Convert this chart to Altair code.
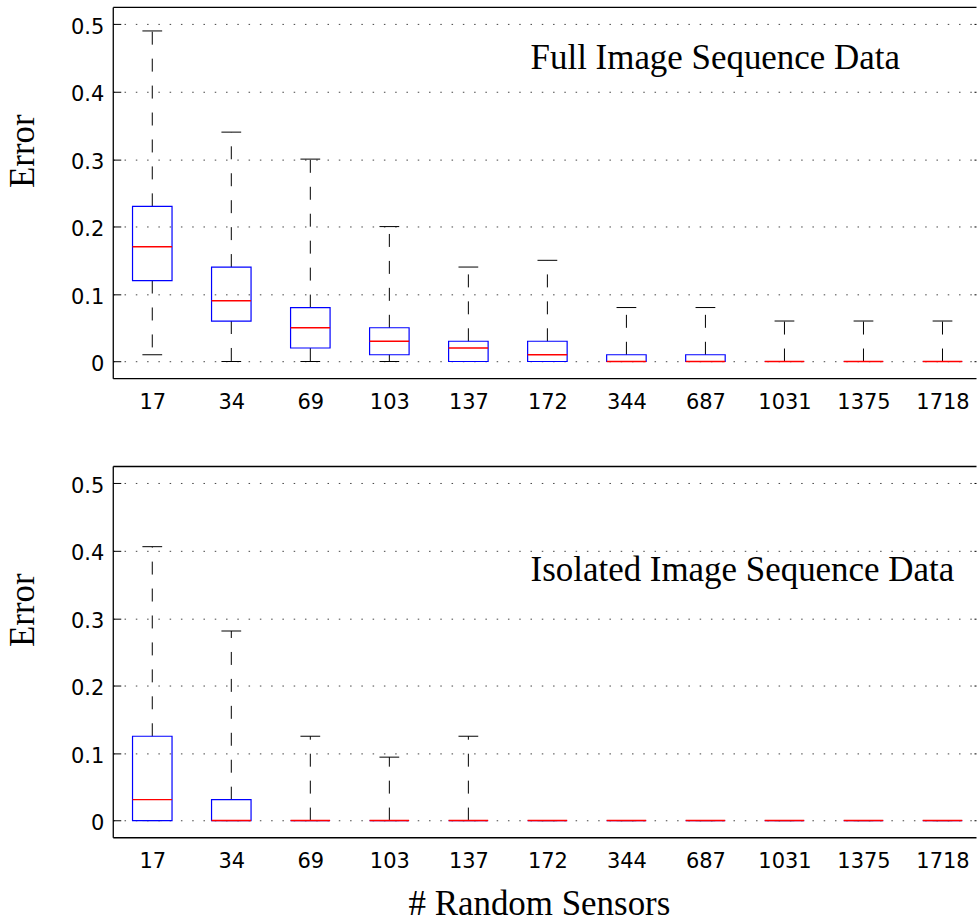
import altair as alt
import pandas as pd

# ---------------- data ----------------
categories = ["17", "34", "69", "103", "137", "172", "344", "687", "1031", "1375", "1718"]

full_lower  = [0.01, 0.00, 0.00, 0.00, 0.00, 0.00, 0.00, 0.00, 0.00, 0.00, 0.00]
full_q1     = [0.12, 0.06, 0.02, 0.01, 0.00, 0.00, 0.00, 0.00, 0.00, 0.00, 0.00]
full_median = [0.17, 0.09, 0.05, 0.03, 0.02, 0.01, 0.00, 0.00, 0.00, 0.00, 0.00]
full_q3     = [0.23, 0.14, 0.08, 0.05, 0.03, 0.03, 0.01, 0.01, 0.00, 0.00, 0.00]
full_upper  = [0.49, 0.34, 0.30, 0.20, 0.14, 0.15, 0.08, 0.08, 0.06, 0.06, 0.06]

iso_lower  = [0.000, 0.000, 0.000, 0.000, 0.000, 0.0, 0.0, 0.0, 0.0, 0.0, 0.0]
iso_q1     = [0.000, 0.000, 0.000, 0.000, 0.000, 0.0, 0.0, 0.0, 0.0, 0.0, 0.0]
iso_median = [0.031, 0.000, 0.000, 0.000, 0.000, 0.0, 0.0, 0.0, 0.0, 0.0, 0.0]
iso_q3     = [0.125, 0.031, 0.000, 0.000, 0.000, 0.0, 0.0, 0.0, 0.0, 0.0, 0.0]
iso_upper  = [0.406, 0.281, 0.125, 0.094, 0.125, 0.0, 0.0, 0.0, 0.0, 0.0, 0.0]

y_ticks = [0, 0.1, 0.2, 0.3, 0.4, 0.5]

# ---------------- styling ----------------
PLOT_W = 865          # plot area runs off the right edge in the original (xlim 0.5..11.5)
PLOT_H = 372
X_DOMAIN = [0.5, 11.424]
Y_DOMAIN = [-0.0247, 0.5256]
BOX_HALF = 0.25
CAP_HALF = 0.125
SANS = "DejaVu Sans"
SERIF = "Liberation Serif"
SERIF_SIZE = 35
FRAME_W = 1.3

label_expr = "[" + ",".join("'%s'" % c for c in categories) + "][datum.value - 1]"


def make_df(lower, q1, med, q3, upper):
    idx = list(range(1, len(categories) + 1))
    return pd.DataFrame({
        "idx": idx,
        "cat": categories,
        "lower": lower, "q1": q1, "median": med, "q3": q3, "upper": upper,
        "box_lo": [i - BOX_HALF for i in idx], "box_hi": [i + BOX_HALF for i in idx],
        "cap_lo": [i - CAP_HALF for i in idx], "cap_hi": [i + CAP_HALF for i in idx],
    })


def panel(df, label, show_xtitle, text_y):
    xs = alt.Scale(domain=X_DOMAIN, nice=False, zero=False)
    ys = alt.Scale(domain=Y_DOMAIN, nice=False, zero=False)

    # main bottom axis (labels + frame line)
    xb_kwargs = dict(
        orient="bottom", values=list(range(1, len(categories) + 1)), labelExpr=label_expr,
        ticks=False, domain=True, domainColor="black", domainWidth=FRAME_W,
        grid=False, labelPadding=13,
    )
    if show_xtitle:
        xb_kwargs.update(titleX=427, titleY=77, titleBaseline="alphabetic",
                         titleAlign="center", titleAnchor="start")
    x_bottom = alt.Axis(**xb_kwargs)
    x_title = "# Random Sensors" if show_xtitle else None
    # top axis: frame line only
    x_top = alt.Axis(orient="top", labels=False, ticks=False, grid=False, domain=True,
                     domainColor="black", domainWidth=FRAME_W)

    # main left axis (labels, dotted grid, frame line)
    y_left = alt.Axis(orient="left", values=y_ticks, format=".1~f", ticks=False,
                      domain=True, domainColor="black", domainWidth=FRAME_W,
                      grid=True, gridDash=[1.5, 9.8], gridColor="#444", gridWidth=1,
                      labelPadding=9, labelOffset=3,
                      titleX=-79, titleY=144, titleAngle=270, titleBaseline="alphabetic",
                      titleAlign="center", titleAnchor="start")
    # inward ticks on the left, short visible part of inward ticks on the right
    y_left_ticks = alt.Axis(orient="left", values=y_ticks, offset=-8, tickSize=8,
                            ticks=True, tickColor="black", tickWidth=1,
                            labels=False, domain=False, grid=False)
    y_right_ticks = alt.Axis(orient="right", values=y_ticks, offset=-2, tickSize=2,
                             ticks=True, tickColor="black", tickWidth=1,
                             labels=False, domain=False, grid=False)

    def X(field, axis=None, title=None):
        if axis is None:
            return alt.X(field, scale=xs, axis=None)
        return alt.X(field, scale=xs, axis=axis, title=title)

    def Y(field, axis=None, title=None):
        if axis is None:
            return alt.Y(field, scale=ys, axis=None)
        return alt.Y(field, scale=ys, axis=axis, title=title)

    base = alt.Chart(df)

    upper_whisker = base.mark_rule(color="black", strokeWidth=1, strokeDash=[13, 14]).encode(
        x=X("idx:Q", x_bottom, x_title), y=Y("q3:Q", y_left, "Error"), y2="upper:Q",
    )
    lower_whisker = base.mark_rule(color="black", strokeWidth=1, strokeDash=[13, 14]).encode(
        x=X("idx:Q", x_top, None), y=Y("q1:Q", y_left_ticks, None), y2="lower:Q",
    )
    upper_cap = base.mark_rule(color="black", strokeWidth=1).encode(
        x=X("cap_lo:Q"), x2="cap_hi:Q", y=Y("upper:Q", y_right_ticks, None),
    )
    lower_cap = base.mark_rule(color="black", strokeWidth=1).encode(
        x=X("cap_lo:Q"), x2="cap_hi:Q", y=Y("lower:Q"),
    )
    box = base.mark_rect(fill="white", fillOpacity=0, stroke="#0000ff", strokeWidth=1.2).encode(
        x=X("box_lo:Q"), x2="box_hi:Q", y=Y("q1:Q"), y2="q3:Q",
    )
    median = base.mark_rule(color="#ff0000", strokeWidth=1.4).encode(
        x=X("box_lo:Q"), x2="box_hi:Q", y=Y("median:Q"),
    )
    text = alt.Chart(alt.Data(values=[{"t": label}])).mark_text(
        font=SERIF, fontSize=SERIF_SIZE, align="left", baseline="alphabetic", color="black"
    ).encode(x=alt.value(418.7), y=alt.value(text_y), text="t:N")

    return alt.layer(
        upper_whisker, lower_whisker, upper_cap, lower_cap, box, median, text
    ).resolve_axis(x="independent", y="independent").properties(
        width=PLOT_W, height=PLOT_H
    )


df_full = make_df(full_lower, full_q1, full_median, full_q3, full_upper)
df_iso = make_df(iso_lower, iso_q1, iso_median, iso_q3, iso_upper)

top = panel(df_full, "Full Image Sequence Data", False, 62)
bottom = panel(df_iso, "Isolated Image Sequence Data", True, 115)

chart = alt.vconcat(top, bottom, spacing=88, bounds="flush").properties(
    padding={"left": 6, "top": 6, "right": 0, "bottom": 0},
    background="white",
).configure_view(
    strokeWidth=0, stroke="transparent"
).configure_axis(
    labelFont=SANS, labelFontSize=21, labelColor="black",
    titleFont=SERIF, titleFontSize=SERIF_SIZE, titleFontWeight="normal", titleColor="black",
)

chart.save("out.html", embed_options={"renderer": "svg", "actions": False})
